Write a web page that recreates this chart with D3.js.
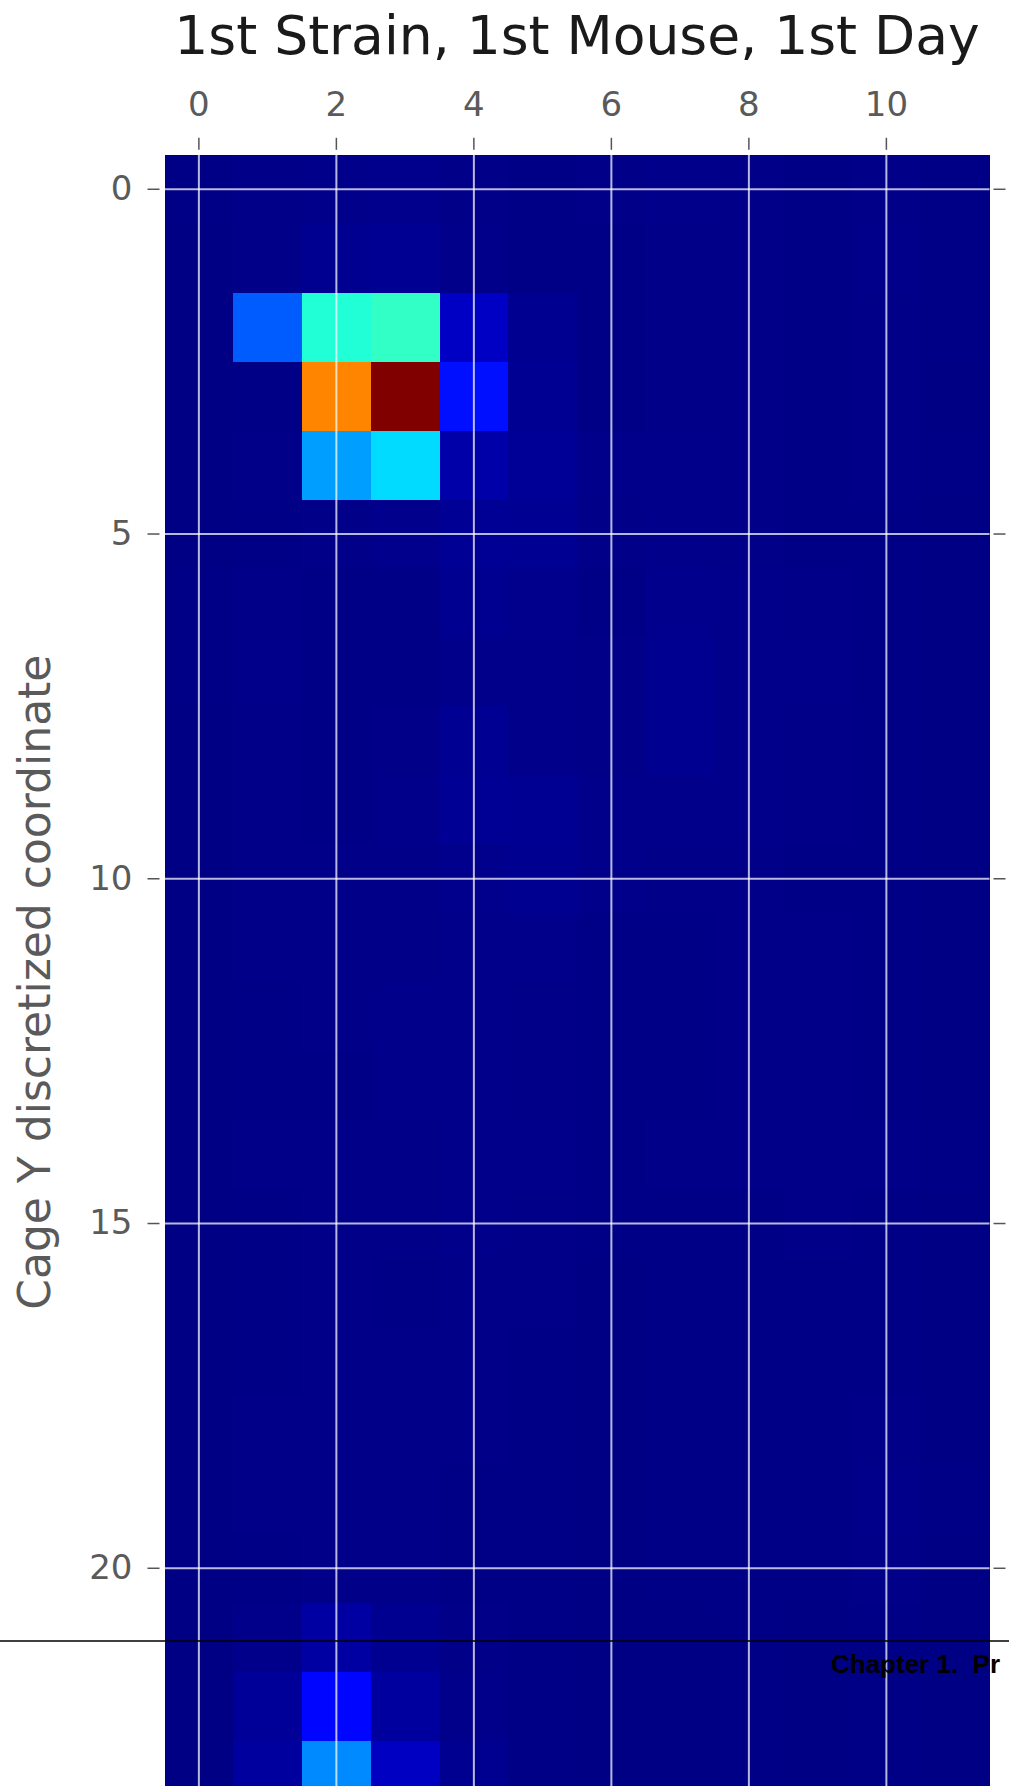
<!DOCTYPE html>
<html>
<head>
<meta charset="utf-8">
<script src="https://cdn.jsdelivr.net/npm/d3@7"></script>
<style>
  body { margin: 0; background: #fff; overflow: hidden; }
  svg { display: block; }
</style>
</head>
<body>
<svg id="chart"></svg>
<script>
// Chart text and ticks
const chartTitle = "1st Strain, 1st Mouse, 1st Day";
const yLabel = "Cage Y discretized coordinate";
const xTicks = [0, 2, 4, 6, 8, 10];
const yTicks = [0, 5, 10, 15, 20];
const footerText = "Chapter 1.  Pr";

// Occupancy per cell (rows = Y, columns = X)
const occupancy = [
  [0.006, 0.008, 0.010, 0.012, 0.008, 0.006, 0.008, 0.010, 0.008, 0.006, 0.008, 0.006],
  [0.004, 0.008, 0.014, 0.016, 0.010, 0.006, 0.006, 0.008, 0.008, 0.006, 0.010, 0.006],
  [0.004, 0.215, 0.390, 0.410, 0.060, 0.014, 0.006, 0.008, 0.008, 0.006, 0.008, 0.006],
  [0.004, 0.006, 0.770, 1.000, 0.140, 0.016, 0.006, 0.008, 0.008, 0.006, 0.008, 0.004],
  [0.004, 0.008, 0.280, 0.340, 0.036, 0.020, 0.010, 0.010, 0.008, 0.006, 0.008, 0.006],
  [0.004, 0.006, 0.008, 0.012, 0.018, 0.016, 0.008, 0.010, 0.008, 0.006, 0.006, 0.004],
  [0.006, 0.008, 0.006, 0.006, 0.014, 0.012, 0.006, 0.012, 0.010, 0.008, 0.006, 0.004],
  [0.006, 0.010, 0.006, 0.006, 0.010, 0.010, 0.008, 0.014, 0.010, 0.010, 0.006, 0.004],
  [0.004, 0.008, 0.006, 0.008, 0.016, 0.010, 0.008, 0.014, 0.010, 0.008, 0.006, 0.004],
  [0.004, 0.008, 0.006, 0.010, 0.018, 0.016, 0.010, 0.010, 0.010, 0.008, 0.006, 0.004],
  [0.004, 0.008, 0.008, 0.008, 0.012, 0.014, 0.010, 0.008, 0.008, 0.006, 0.006, 0.004],
  [0.004, 0.008, 0.008, 0.008, 0.010, 0.010, 0.006, 0.006, 0.008, 0.008, 0.006, 0.004],
  [0.004, 0.006, 0.008, 0.010, 0.010, 0.008, 0.006, 0.006, 0.008, 0.008, 0.006, 0.004],
  [0.004, 0.006, 0.006, 0.010, 0.010, 0.008, 0.006, 0.006, 0.008, 0.008, 0.006, 0.004],
  [0.004, 0.008, 0.008, 0.008, 0.010, 0.010, 0.006, 0.008, 0.008, 0.008, 0.008, 0.006],
  [0.004, 0.006, 0.008, 0.008, 0.010, 0.008, 0.006, 0.006, 0.006, 0.008, 0.006, 0.004],
  [0.004, 0.006, 0.008, 0.006, 0.008, 0.008, 0.004, 0.006, 0.006, 0.006, 0.006, 0.004],
  [0.004, 0.006, 0.008, 0.008, 0.008, 0.006, 0.004, 0.006, 0.006, 0.006, 0.006, 0.004],
  [0.004, 0.008, 0.008, 0.008, 0.008, 0.006, 0.004, 0.006, 0.006, 0.006, 0.008, 0.004],
  [0.004, 0.008, 0.008, 0.008, 0.006, 0.006, 0.004, 0.006, 0.006, 0.006, 0.010, 0.006],
  [0.004, 0.006, 0.008, 0.008, 0.006, 0.006, 0.004, 0.006, 0.006, 0.006, 0.008, 0.004],
  [0.004, 0.010, 0.030, 0.014, 0.008, 0.006, 0.004, 0.004, 0.006, 0.004, 0.006, 0.004],
  [0.004, 0.022, 0.130, 0.026, 0.010, 0.006, 0.004, 0.004, 0.006, 0.004, 0.006, 0.004],
  [0.004, 0.026, 0.260, 0.058, 0.014, 0.006, 0.004, 0.004, 0.006, 0.004, 0.006, 0.004]
];

// Page and plot box
const width = 1009;
const height = 1786;
const plotLeft = 164.5, plotRight = 989.5;
const plotTop = 154.8, plotBottom = 1809.6;

const nCols = occupancy[0].length;
const nRows = occupancy.length;

const svg = d3.select("#chart")
  .attr("width", width)
  .attr("height", height);

// Scales
const x = d3.scaleBand().domain(d3.range(nCols)).range([plotLeft, plotRight]);
const y = d3.scaleBand().domain(d3.range(nRows)).range([plotTop, plotBottom]);

// Jet colormap, one linear scale per channel
const jetR = d3.scaleLinear().domain([0, 0.35, 0.66, 0.89, 1]).range([0, 0, 1, 1, 0.5]).clamp(true);
const jetG = d3.scaleLinear().domain([0, 0.125, 0.375, 0.64, 0.91, 1]).range([0, 0, 1, 1, 0, 0]).clamp(true);
const jetB = d3.scaleLinear().domain([0, 0.11, 0.34, 0.65, 1]).range([0.5, 1, 1, 0, 0]).clamp(true);
const norm = d3.scaleLinear().domain([0, d3.max(occupancy.flat())]).range([0, 1]).clamp(true);
const jet = v => {
  const t = norm(v);
  return d3.rgb(jetR(t) * 255, jetG(t) * 255, jetB(t) * 255).formatHex();
};

// Cells
const cells = occupancy.flatMap((row, r) => row.map((v, c) => ({ r, c, v })));

svg.append("g")
  .selectAll("rect")
  .data(cells)
  .enter()
  .append("rect")
  .attr("x", d => x(d.c))
  .attr("y", d => y(d.r))
  .attr("width", x.bandwidth() + 0.5)
  .attr("height", y.bandwidth() + 0.5)
  .attr("fill", d => jet(d.v))
  .attr("shape-rendering", "crispEdges");

// Grid lines
const grid = svg.append("g")
  .attr("stroke", "#ffffff")
  .attr("stroke-opacity", 0.72)
  .attr("stroke-width", 2);

grid.selectAll(".vgrid")
  .data(xTicks)
  .enter()
  .append("line")
  .attr("class", "vgrid")
  .attr("x1", d => x(d) + x.bandwidth() / 2)
  .attr("x2", d => x(d) + x.bandwidth() / 2)
  .attr("y1", plotTop)
  .attr("y2", plotBottom);

grid.selectAll(".hgrid")
  .data(yTicks)
  .enter()
  .append("line")
  .attr("class", "hgrid")
  .attr("x1", plotLeft)
  .attr("x2", plotRight)
  .attr("y1", d => y(d) + y.bandwidth() / 2)
  .attr("y2", d => y(d) + y.bandwidth() / 2);

// Axes (ticks sit outside the image with a small gap)
function styleAxis(g) {
  g.select(".domain").remove();
  g.selectAll(".tick line").attr("stroke", "#555").attr("stroke-width", 1.5);
  g.selectAll(".tick text")
    .attr("fill", "#5a5a5a")
    .style("font-family", "'DejaVu Sans', sans-serif")
    .style("font-size", "34px");
}

svg.append("g")
  .attr("transform", `translate(0, ${plotTop - 5})`)
  .call(d3.axisTop(x).tickValues(xTicks).tickSize(12).tickPadding(22))
  .call(styleAxis);

svg.append("g")
  .attr("transform", `translate(${plotLeft - 5}, 0)`)
  .call(d3.axisLeft(y).tickValues(yTicks).tickSize(12).tickPadding(15))
  .call(styleAxis);

svg.append("g")
  .attr("transform", `translate(${plotRight + 4}, 0)`)
  .call(d3.axisRight(y).tickValues(yTicks).tickSize(12).tickFormat(""))
  .call(styleAxis);

// Title
svg.append("text")
  .attr("x", (plotLeft + plotRight) / 2)
  .attr("y", 54)
  .attr("text-anchor", "middle")
  .attr("fill", "#1a1a1a")
  .style("font-family", "'DejaVu Sans', sans-serif")
  .style("font-size", "53.5px")
  .text(chartTitle);

// Y axis label
svg.append("text")
  .attr("transform", `translate(50, ${(plotTop + plotBottom) / 2}) rotate(-90)`)
  .attr("text-anchor", "middle")
  .attr("fill", "#5a5a5a")
  .style("font-family", "'DejaVu Sans', sans-serif")
  .style("font-size", "44px")
  .text(yLabel);

// Page rule and running header of the document the chart was taken from
svg.append("line")
  .attr("x1", 0)
  .attr("x2", width)
  .attr("y1", 1641)
  .attr("y2", 1641)
  .attr("stroke", "#000")
  .attr("stroke-width", 1.5);

svg.append("text")
  .attr("x", 831)
  .attr("y", 1673)
  .attr("fill", "#000")
  .attr("xml:space", "preserve")
  .style("white-space", "pre")
  .style("font-family", "'Liberation Sans', Arial, sans-serif")
  .style("font-weight", "bold")
  .style("font-size", "26px")
  .text(footerText);
</script>
</body>
</html>
